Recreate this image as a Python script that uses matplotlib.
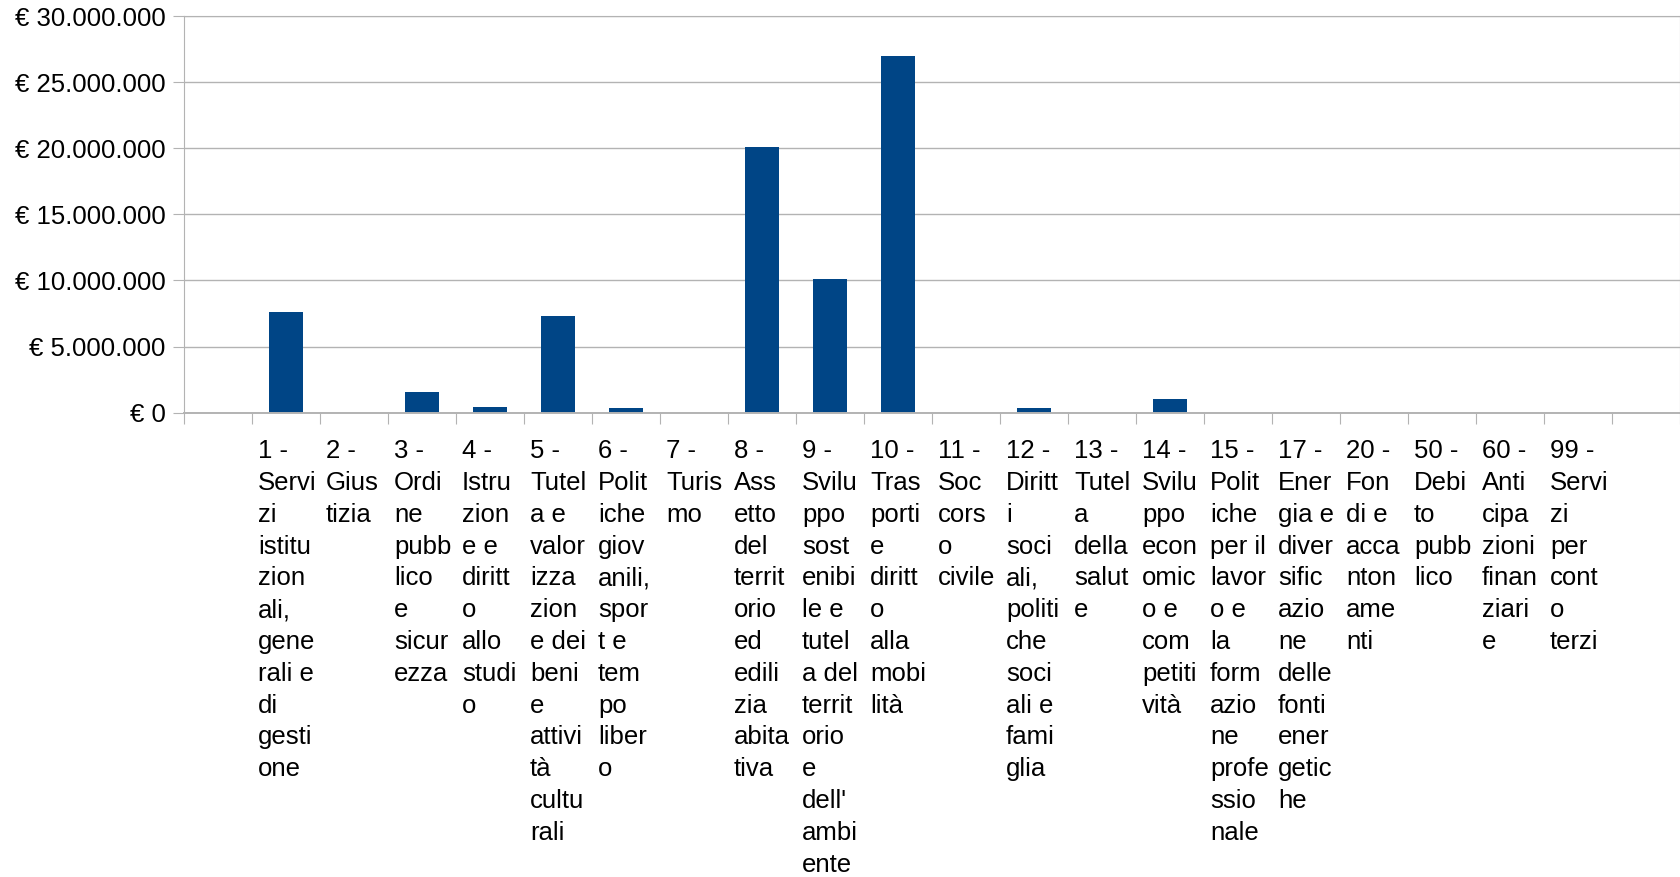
import matplotlib
matplotlib.use("Agg")
import matplotlib.pyplot as plt
from matplotlib.ticker import FuncFormatter, MultipleLocator
from matplotlib.transforms import blended_transform_factory, ScaledTranslation

plt.rcParams['font.family'] = ['Liberation Sans', 'DejaVu Sans']

# Missions (labels wrapped as in the spreadsheet chart)
labels = [
    "1 -\nServi\nzi\nistitu\nzion\nali,\ngene\nrali e\ndi\ngesti\none",
    "2 -\nGius\ntizia",
    "3 -\nOrdi\nne\npubb\nlico\ne\nsicur\nezza",
    "4 -\nIstru\nzion\ne e\ndiritt\no\nallo\nstudi\no",
    "5 -\nTutel\na e\nvalor\nizza\nzion\ne dei\nbeni\ne\nattivi\ntà\ncultu\nrali",
    "6 -\nPolit\niche\ngiov\nanili,\nspor\nt e\ntem\npo\nliber\no",
    "7 -\nTuris\nmo",
    "8 -\nAss\netto\ndel\nterrit\norio\ned\nedili\nzia\nabita\ntiva",
    "9 -\nSvilu\nppo\nsost\nenibi\nle e\ntutel\na del\nterrit\norio\ne\ndell'\nambi\nente",
    "10 -\nTras\nporti\ne\ndiritt\no\nalla\nmobi\nlità",
    "11 -\nSoc\ncors\no\ncivile",
    "12 -\nDiritt\ni\nsoci\nali,\npoliti\nche\nsoci\nali e\nfami\nglia",
    "13 -\nTutel\na\ndella\nsalut\ne",
    "14 -\nSvilu\nppo\necon\nomic\no e\ncom\npetiti\nvità",
    "15 -\nPolit\niche\nper il\nlavor\no e\nla\nform\nazio\nne\nprofe\nssio\nnale",
    "17 -\nEner\ngia e\ndiver\nsific\nazio\nne\ndelle\nfonti\nener\ngetic\nhe",
    "20 -\nFon\ndi e\nacca\nnton\name\nnti",
    "50 -\nDebi\nto\npubb\nlico",
    "60 -\nAnti\ncipa\nzioni\nfinan\nziari\ne",
    "99 -\nServi\nzi\nper\ncont\no\nterzi",
]

# Amounts in euro per mission
values = [
    7_610_000, 0, 1_560_000, 430_000, 7_280_000, 350_000, 0,
    20_100_000, 10_100_000, 26_950_000, 0, 350_000, 0, 1_030_000,
    0, 0, 0, 0, 0, 0,
]

BAR_COLOR = "#004586"
GRID_COLOR = "#b3b3b3"

fig = plt.figure(figsize=(16.81, 8.77), dpi=100)
ax = fig.add_axes([184 / 1681, 1 - 412.7 / 877, (1680 - 184) / 1681, (412.7 - 16) / 877])

x = list(range(len(values)))
ax.bar(x, values, width=0.51, color=BAR_COLOR, zorder=3)

ax.set_xlim(-1.5, len(values) + 0.5)
ax.set_ylim(0, 30_000_000)

# y axis
ax.yaxis.set_major_locator(MultipleLocator(5_000_000))


def euro(v, pos):
    return "€ " + f"{int(round(v)):,}".replace(",", ".")


ax.yaxis.set_major_formatter(FuncFormatter(euro))
ax.yaxis.grid(True, color=GRID_COLOR, linewidth=1.0, zorder=0)
ax.tick_params(axis="y", length=7.9, width=0.8, color=GRID_COLOR, pad=5.3,
               labelsize=18.5, labelcolor="black")

# x axis: ticks at slot boundaries, labels drawn below each slot
ax.set_xticks([i - 0.5 for i in range(-1, len(values) + 2)])
ax.set_xticklabels([])
ax.tick_params(axis="x", length=7.9, width=0.8, color=GRID_COLOR)

for name, sp in ax.spines.items():
    sp.set_color(GRID_COLOR)
    sp.set_linewidth(0.8)
ax.spines["bottom"].set_linewidth(1.4)
ax.spines["bottom"].set_zorder(4)

trans = blended_transform_factory(ax.transData, ax.transAxes) + \
    ScaledTranslation(6 / 100, -26.6 / 100, fig.dpi_scale_trans)
for i, lab in enumerate(labels):
    ax.text(i - 0.5, 0, lab, transform=trans, ha="left", va="top",
            fontsize=18.5, linespacing=1.41, color="black")

fig.savefig("out.png", dpi=100)
